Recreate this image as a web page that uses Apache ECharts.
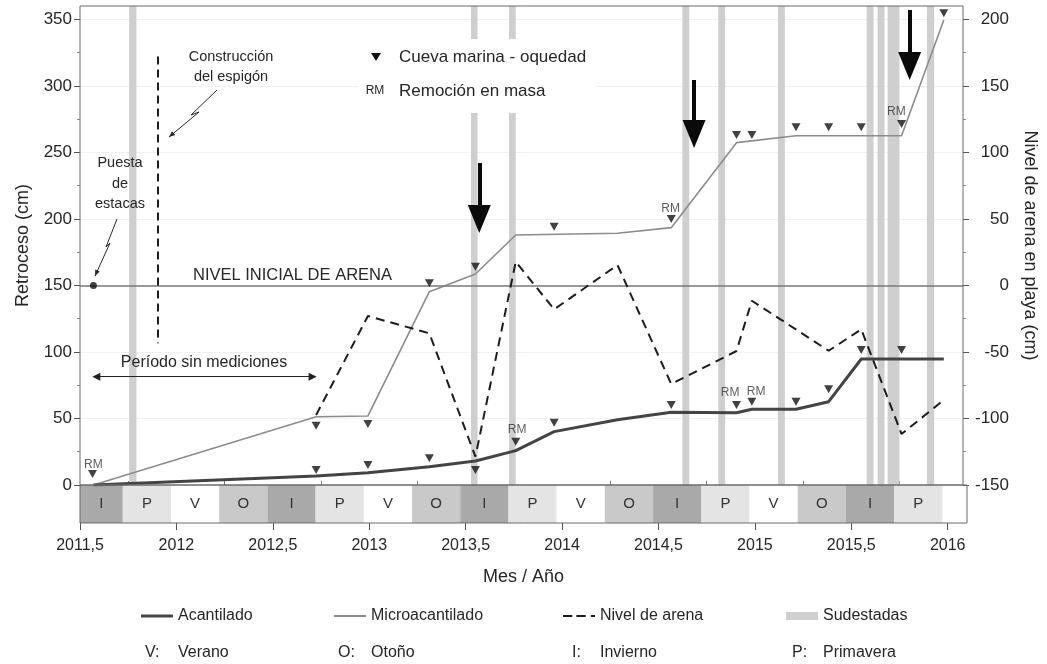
<!DOCTYPE html>
<html>
<head>
<meta charset="utf-8">
<script src="https://cdn.jsdelivr.net/npm/echarts@6/dist/echarts.min.js"></script>
<style>
  html, body { margin: 0; padding: 0; background: #fff; }
  #c { width: 1047px; height: 664px; }
</style>
</head>
<body>
<div id="c"></div>
<script>
// ---- data (x = decimal year, y = cm) ----
const acantilado = [[2011.57,0],[2012.73,6.8],[2013.0,9.2],[2013.32,13.8],[2013.56,18.0],[2013.77,25.8],[2013.97,40.1],[2014.30,49.0],[2014.58,54.6],[2014.92,54.3],[2015.0,56.9],[2015.23,56.9],[2015.40,62.6],[2015.57,94.7],[2016.0,94.7]];
const microacantilado = [[2011.57,0],[2012.73,51.3],[2013.0,51.9],[2013.32,145.3],[2013.56,158.6],[2013.77,187.9],[2014.30,189.2],[2014.58,193.4],[2014.92,257.3],[2015.23,262.5],[2015.78,262.5],[2016.0,349.5]];
// sand level, right axis (0 = initial level)
const nivelArena = [[2012.73,-97.4],[2013.0,-23.0],[2013.32,-36.0],[2013.56,-128.7],[2013.77,17.8],[2013.97,-18.0],[2014.30,15.3],[2014.58,-74.1],[2014.92,-49.3],[2015.0,-11.5],[2015.40,-49.1],[2015.57,-33.0],[2015.78,-111.7],[2016.0,-86.1]];
// sea caves / hollows (triangles)
const cuevas = [[2011.565,8.3],[2012.73,44.6],[2013.0,45.8],[2013.32,151.6],[2013.56,164.1],[2013.97,194.1],[2014.58,199.9],[2014.92,263.0],[2015.0,263.0],[2015.23,268.8],[2015.40,268.8],[2015.57,268.8],[2015.78,271.3],[2016.0,354.5],
                [2012.73,11.3],[2013.0,15.0],[2013.32,20.1],[2013.56,11.3],[2013.77,32.5],[2013.97,46.8],[2014.58,60.1],[2014.92,60.1],[2015.0,62.6],[2015.23,62.6],[2015.40,71.9],[2015.57,101.5],[2015.78,101.5]];
// mass wasting events (RM)
const remociones = [[2011.57,15.0],[2013.777,41.6],[2014.577,208.0],[2014.887,69.1],[2015.022,70.1],[2015.753,280.6]];
// stake placement
const estacas = [[2011.57,150]];
// south-east storm periods [start, end]
const sudestadas = [[2011.756,2011.794],[2013.537,2013.571],[2013.735,2013.770],[2014.638,2014.674],[2014.825,2014.861],[2015.136,2015.172],[2015.598,2015.634],[2015.655,2015.691],[2015.707,2015.769],[2015.912,2015.950]];
// seasons [letter, start, end]
const estaciones = [['I',2011.5,2011.722],['P',2011.722,2011.972],['V',2011.972,2012.222],['O',2012.222,2012.472],['I',2012.472,2012.722],['P',2012.722,2012.972],['V',2012.972,2013.222],['O',2013.222,2013.472],['I',2013.472,2013.722],['P',2013.722,2013.972],['V',2013.972,2014.222],['O',2014.222,2014.472],['I',2014.472,2014.722],['P',2014.722,2014.972],['V',2014.972,2015.222],['O',2015.222,2015.472],['I',2015.472,2015.722],['P',2015.722,2015.972]];
const claveEstaciones = [['V:','Verano'],['O:','Otoño'],['I:','Invierno'],['P:','Primavera']];
// big arrows [x, shaft top, head centre]
const flechas = [[2013.58,242.0,199.9],[2014.699,304.4,263.8],[2015.822,357.0,314.9]];
// breakwater construction date and its vertical extent
const espigon = [2011.906, 322, 106.6];
// no-measurement period [start, end, level]
const sinMediciones = [2011.585, 2012.712, 81.4];
const nivelInicial = 150;

// axis ticks
const xMajor = [2011.5,2012,2012.5,2013,2013.5,2014,2014.5,2015,2015.5,2016];
const xMinor = [2011.75,2012.25,2012.75,2013.25,2013.75,2014.25,2014.75,2015.25,2015.75];
const yLeftMajor = [0,50,100,150,200,250,300,350];
const yLeftMinor = [25,75,125,175,225,275,325];
const yRightMajor = [-150,-100,-50,0,50,100,150,200];
const yRightMinor = [-125,-75,-25,25,75,125,175];

const FONT = '"Liberation Sans", Arial, Helvetica, sans-serif';
const INK = '#262626';
const FRAME = '#6a6a6a';
const seasonColor = { I: '#a9a9a9', P: '#e4e4e4', V: '#ffffff', O: '#c9c9c9' };

const chart = echarts.init(document.getElementById('c'));

function txt(x, y, text, size, align) {
  return { type: 'text', x: x, y: y, z: 60,
    style: { text: text, fontSize: size, fontFamily: FONT, fill: INK, align: align || 'center', verticalAlign: 'middle' } };
}
// zigzag pointer ending with a small head
function bolt(pts) {
  const n = pts.length;
  const tx = pts[n-1][0], ty = pts[n-1][1], px = pts[n-2][0], py = pts[n-2][1];
  const dx = tx - px, dy = ty - py, d = Math.hypot(dx, dy), ux = dx / d, uy = dy / d;
  const L = 6, W = 5, bx = tx - ux * L, by = ty - uy * L;
  return [
    { type: 'polyline', z: 60, shape: { points: pts }, style: { stroke: INK, lineWidth: 1, fill: 'none' } },
    { type: 'polygon', z: 60, shape: { points: [[tx, ty], [bx - uy * W / 2, by + ux * W / 2], [bx + uy * W / 2, by - ux * W / 2]] }, style: { fill: INK } }
  ];
}

const graphics = [
  txt(231, 57, 'Construcción', 14.5), txt(231, 77, 'del espigón', 14.5),
  ...bolt([[217, 90], [191, 115], [199, 112], [169, 137]]),
  txt(120, 163, 'Puesta', 14.5), txt(120, 184, 'de', 14.5), txt(120, 204, 'estacas', 14.5),
  ...bolt([[117, 219], [106, 247], [110, 243], [95, 276]]),
  txt(193, 275, 'NIVEL INICIAL DE ARENA', 16.5, 'left'),
  txt(204, 363, 'Período sin mediciones', 16),
  // symbol key box
  { type: 'rect', z: 50, shape: { x: 358, y: 39, width: 238, height: 74 }, style: { fill: '#fff' } },
  { type: 'polygon', z: 60, shape: { points: [[371, 53], [381, 53], [376, 61]] }, style: { fill: '#111' } },
  txt(399, 57, 'Cueva marina - oquedad', 17, 'left'),
  txt(375, 91, 'RM', 12),
  txt(399, 91, 'Remoción en masa', 17, 'left')
];
const keyX = [[145, 178], [338, 371], [572, 600], [792, 823]];
claveEstaciones.forEach(function (k, i) {
  graphics.push(txt(keyX[i][0], 653, k[0], 16, 'left'));
  graphics.push(txt(keyX[i][1], 653, k[1], 16, 'left'));
});

const legendText = { fontSize: 16, fontFamily: FONT, color: INK };
function legendAt(name, icon, left, h) {
  return { data: [{ name: name, icon: icon }], left: left, top: 608, itemWidth: 32, itemHeight: h,
    symbolKeepAspect: false, selectedMode: false, textStyle: legendText, padding: 0 };
}
const dashIcon = 'path://M0,0h9v2h-9z M13,0h9v2h-9z M27,0h4v2h-4z';

const option = {
  animation: false,
  textStyle: { fontFamily: FONT },
  grid: [
    { left: 80, right: 80, top: 6, height: 479, show: true, borderColor: FRAME, borderWidth: 1, backgroundColor: 'transparent', z: 10 },
    { left: 80, right: 80, top: 485, height: 38, show: true, borderColor: FRAME, borderWidth: 1, backgroundColor: 'transparent', z: 10 }
  ],
  xAxis: [
    { gridIndex: 0, type: 'value', min: 2011.5, max: 2016.1, show: false },
    { gridIndex: 1, type: 'value', min: 2011.5, max: 2016.1, interval: 0.5,
      axisLine: { show: false }, splitLine: { show: false },
      axisTick: { customValues: xMajor, length: 7, lineStyle: { color: '#555' } },
      axisLabel: { customValues: xMajor, fontSize: 16, color: INK, margin: 15,
        formatter: function (v) { return String(v).replace('.', ','); } },
      name: 'Mes / Año', nameLocation: 'middle', nameGap: 45,
      nameTextStyle: { fontSize: 18, color: INK } },
    { gridIndex: 1, type: 'value', min: 2011.5, max: 2016.1,
      axisLine: { show: false }, splitLine: { show: false }, axisLabel: { show: false },
      axisTick: { customValues: xMinor, length: 4, lineStyle: { color: '#777' } } }
  ],
  yAxis: [
    { gridIndex: 0, type: 'value', min: 0, max: 360, interval: 50, position: 'left',
      axisLine: { show: false },
      axisTick: { customValues: yLeftMajor, length: 6, lineStyle: { color: '#555' } },
      axisLabel: { customValues: yLeftMajor, fontSize: 17, color: INK, margin: 8 },
      splitLine: { show: true, lineStyle: { color: '#f0f0f0', width: 1 } },
      name: 'Retroceso (cm)', nameLocation: 'middle', nameGap: 48,
      nameTextStyle: { fontSize: 18, color: INK } },
    { gridIndex: 0, type: 'value', min: -150, max: 210, interval: 50, position: 'right',
      axisLine: { show: false }, splitLine: { show: false },
      axisTick: { customValues: yRightMajor, length: 6, lineStyle: { color: '#555' } },
      axisLabel: { customValues: yRightMajor, fontSize: 17, color: INK, margin: 46, align: 'right' },
      name: 'Nivel de arena en playa (cm)', nameLocation: 'middle', nameGap: 58, nameRotate: -90,
      nameTextStyle: { fontSize: 18, color: INK } },
    { gridIndex: 0, type: 'value', min: 0, max: 360, position: 'left',
      axisLine: { show: false }, splitLine: { show: false }, axisLabel: { show: false },
      axisTick: { customValues: yLeftMinor, length: 3, lineStyle: { color: '#888' } } },
    { gridIndex: 0, type: 'value', min: -150, max: 210, position: 'right',
      axisLine: { show: false }, splitLine: { show: false }, axisLabel: { show: false },
      axisTick: { customValues: yRightMinor, length: 3, lineStyle: { color: '#888' } } },
    { gridIndex: 1, type: 'value', min: 0, max: 1, show: false }
  ],
  legend: [
    legendAt('Acantilado', 'rect', 141, 3),
    legendAt('Microacantilado', 'rect', 334, 2),
    legendAt('Nivel de arena', dashIcon, 563, 2),
    legendAt('Sudestadas', 'rect', 786, 8)
  ],
  graphic: graphics,
  series: [
    { name: 'Sudestadas', type: 'line', xAxisIndex: 0, yAxisIndex: 0, data: [],
      color: '#cfcfcf', itemStyle: { color: '#cfcfcf' }, lineStyle: { color: '#cfcfcf' },
      markArea: { silent: true, itemStyle: { color: '#cfcfcf' },
        data: sudestadas.map(function (s) { return [{ xAxis: s[0] }, { xAxis: s[1] }]; }) } },
    { name: 'estaciones', type: 'line', xAxisIndex: 1, yAxisIndex: 4, data: [],
      markArea: { silent: true,
        label: { show: true, position: 'inside', fontSize: 15, color: '#333', fontFamily: FONT },
        data: estaciones.map(function (e) {
          return [{ name: e[0], xAxis: e[1], itemStyle: { color: seasonColor[e[0]] } }, { xAxis: e[2] }];
        }) } },
    { name: 'Microacantilado', type: 'line', xAxisIndex: 0, yAxisIndex: 0, data: microacantilado,
      symbol: 'none', color: '#8c8c8c', itemStyle: { color: '#8c8c8c' }, lineStyle: { color: '#8c8c8c', width: 1.6 }, z: 3 },
    { name: 'Acantilado', type: 'line', xAxisIndex: 0, yAxisIndex: 0, data: acantilado,
      symbol: 'none', color: '#444', itemStyle: { color: '#444' }, lineStyle: { color: '#444', width: 3 }, z: 4 },
    { name: 'Nivel de arena', type: 'line', xAxisIndex: 0, yAxisIndex: 1, data: nivelArena,
      symbol: 'none', color: '#1c1c1c', itemStyle: { color: '#1c1c1c' }, lineStyle: { color: '#1c1c1c', width: 2, type: [9, 6] }, z: 5 },
    { name: 'Cueva marina - oquedad', type: 'scatter', xAxisIndex: 0, yAxisIndex: 0, data: cuevas,
      symbol: 'triangle', symbolRotate: 180, symbolSize: [9, 8], itemStyle: { color: '#111' }, z: 6 },
    { name: 'Remoción en masa', type: 'scatter', xAxisIndex: 0, yAxisIndex: 0, data: remociones,
      symbolSize: 1, itemStyle: { color: 'rgba(0,0,0,0)' }, z: 6,
      label: { show: true, position: 'inside', formatter: 'RM', fontSize: 12, color: '#333', fontFamily: FONT } },
    { name: 'Puesta de estacas', type: 'scatter', xAxisIndex: 0, yAxisIndex: 0, data: estacas,
      symbol: 'circle', symbolSize: 7, itemStyle: { color: '#111' }, z: 6 },
    { name: 'anotaciones', type: 'line', xAxisIndex: 0, yAxisIndex: 0, data: [],
      markLine: { silent: true, symbol: ['none', 'none'], label: { show: false },
        data: [
          { yAxis: nivelInicial, lineStyle: { color: '#7a7a7a', width: 1.5, type: 'solid' } },
          [{ coord: [espigon[0], espigon[1]], lineStyle: { color: '#1c1c1c', width: 2, type: [8, 5] } },
           { coord: [espigon[0], espigon[2]] }],
          [{ coord: [sinMediciones[0], sinMediciones[2]], symbol: 'triangle', symbolSize: [8, 8],
             lineStyle: { color: '#222', width: 1, type: 'solid' } },
           { coord: [sinMediciones[1], sinMediciones[2]], symbol: 'triangle', symbolSize: [8, 8] }]
        ].concat(flechas.map(function (f) {
          return [{ coord: [f[0], f[1]], symbol: 'none', lineStyle: { color: '#0a0a0a', width: 4, type: 'solid' } },
                  { coord: [f[0], f[2]], symbol: 'triangle', symbolSize: [23, 28] }];
        })) } }
  ]
};
chart.setOption(option);
</script>
</body>
</html>
